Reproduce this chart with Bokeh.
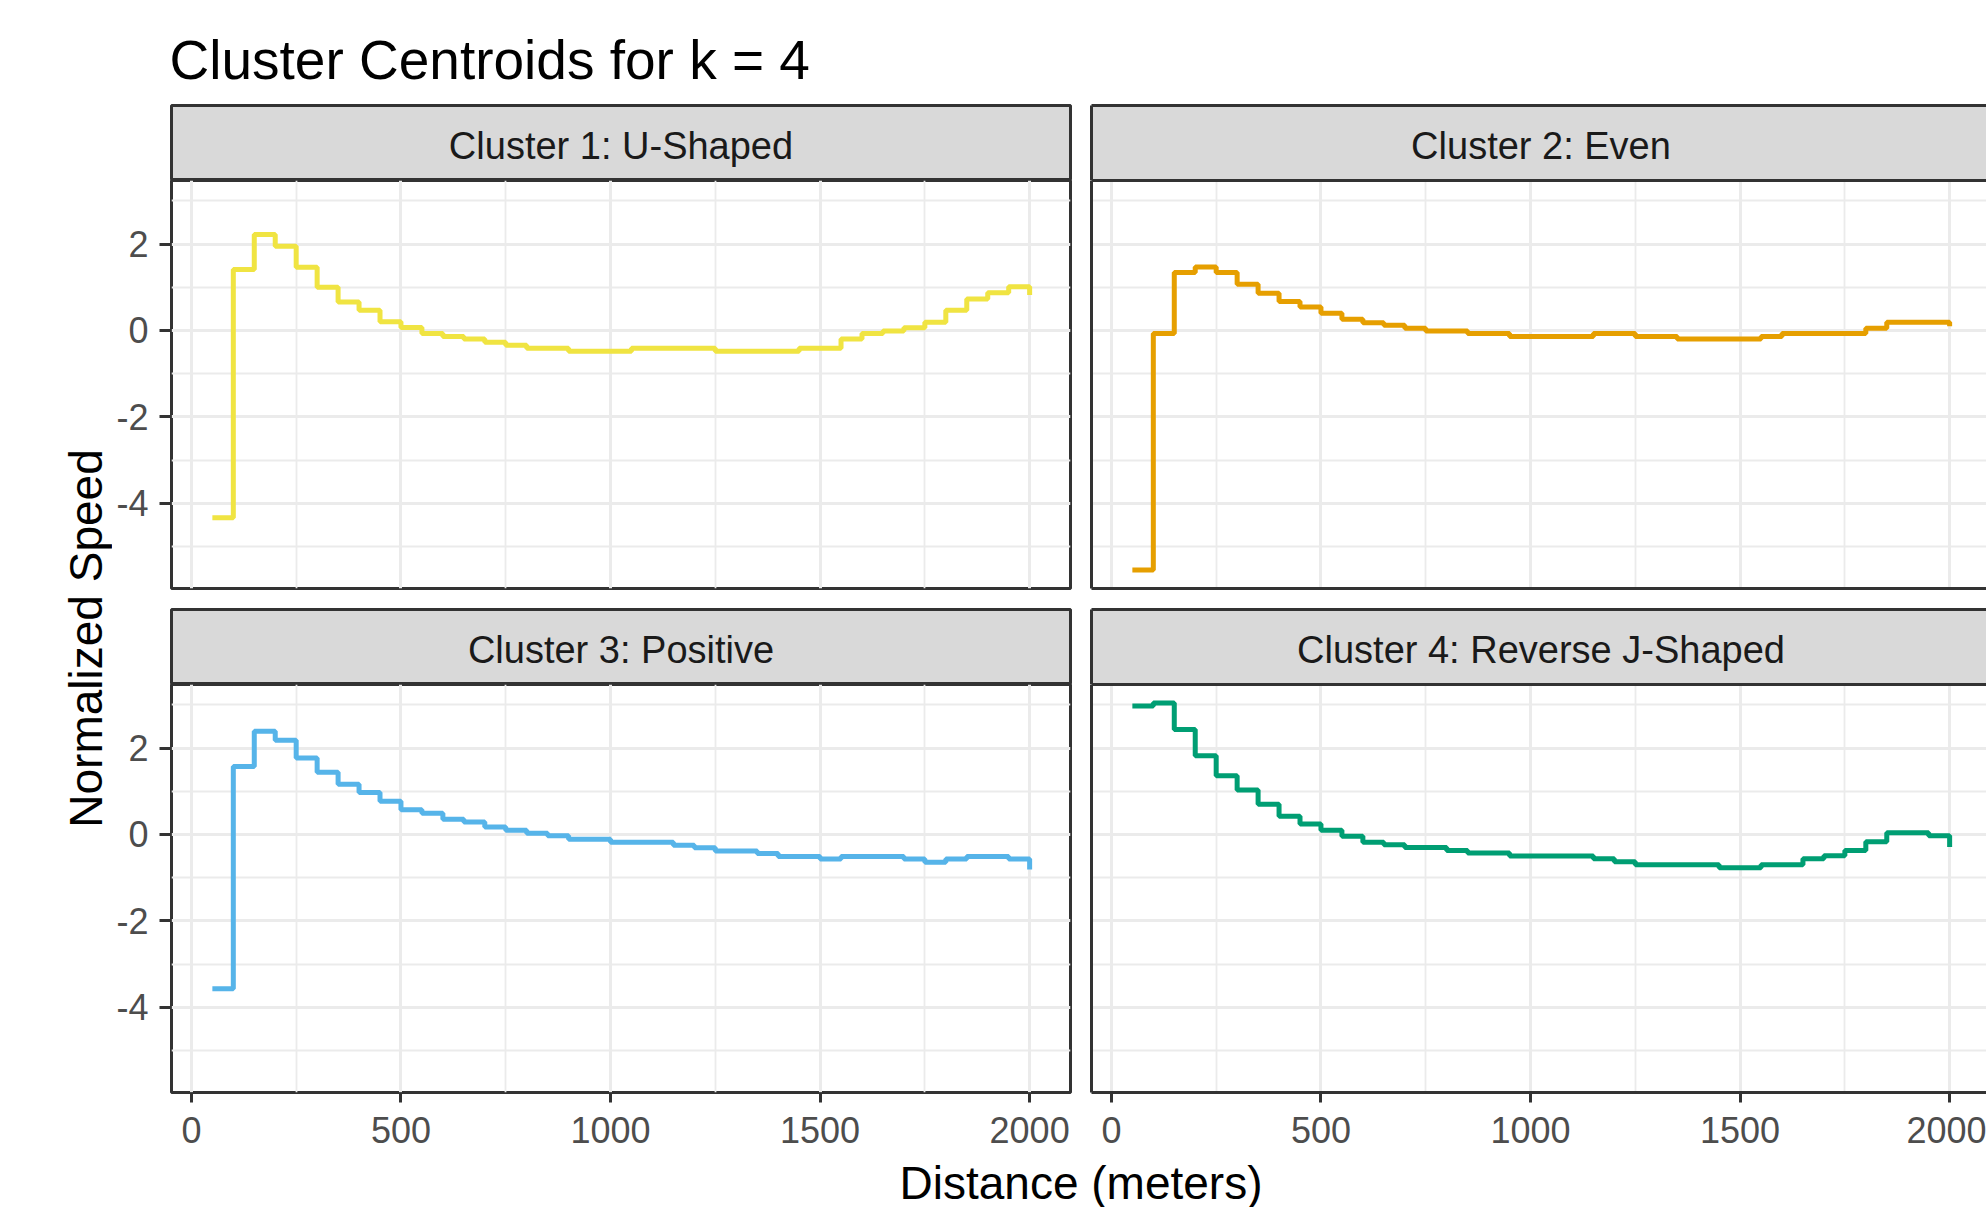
import math
from bokeh.plotting import figure
from bokeh.layouts import column, row
from bokeh.models import Range1d, FixedTicker, Label, LinearAxis
from bokeh.embed import file_html
from bokeh.resources import INLINE

# ---------------- data ----------------
distance = [50, 100, 150, 200, 250, 300, 350, 400, 450, 500,
            550, 600, 650, 700, 750, 800, 850, 900, 950, 1000,
            1050, 1100, 1150, 1200, 1250, 1300, 1350, 1400, 1450, 1500,
            1550, 1600, 1650, 1700, 1750, 1800, 1850, 1900, 1950, 2000]

speed_c1 = [-4.33, 1.41, 2.22, 1.95, 1.46, 1.00, 0.66, 0.47, 0.20, 0.07,
            -0.07, -0.14, -0.20, -0.27, -0.34, -0.41, -0.41, -0.48, -0.48, -0.48,
            -0.41, -0.41, -0.41, -0.41, -0.48, -0.48, -0.48, -0.48, -0.41, -0.41,
            -0.20, -0.07, -0.01, 0.06, 0.19, 0.47, 0.73, 0.87, 1.01, 0.82]

speed_c2 = [-5.54, -0.07, 1.34, 1.47, 1.34, 1.07, 0.86, 0.67, 0.54, 0.40,
            0.26, 0.18, 0.12, 0.05, -0.01, -0.01, -0.07, -0.07, -0.14, -0.14,
            -0.14, -0.14, -0.07, -0.07, -0.14, -0.14, -0.20, -0.20, -0.20, -0.20,
            -0.14, -0.07, -0.07, -0.07, -0.07, 0.05, 0.19, 0.19, 0.19, 0.10]

speed_c3 = [-3.57, 1.57, 2.39, 2.18, 1.77, 1.44, 1.16, 0.97, 0.77, 0.57,
            0.49, 0.35, 0.29, 0.17, 0.10, 0.03, -0.03, -0.11, -0.11, -0.18,
            -0.18, -0.18, -0.25, -0.31, -0.38, -0.38, -0.44, -0.51, -0.51, -0.57,
            -0.51, -0.51, -0.51, -0.57, -0.64, -0.57, -0.51, -0.51, -0.57, -0.81]

speed_c4 = [2.97, 3.04, 2.43, 1.82, 1.36, 1.03, 0.70, 0.42, 0.24, 0.10,
            -0.04, -0.18, -0.24, -0.30, -0.30, -0.37, -0.43, -0.43, -0.50, -0.50,
            -0.50, -0.50, -0.56, -0.63, -0.70, -0.70, -0.70, -0.70, -0.77, -0.77,
            -0.70, -0.70, -0.56, -0.49, -0.37, -0.17, 0.04, 0.04, -0.03, -0.29]

panel_labels = ["Cluster 1: U-Shaped", "Cluster 2: Even",
                "Cluster 3: Positive", "Cluster 4: Reverse J-Shaped"]
panel_colors = ["#F0E442", "#E69F00", "#56B4E9", "#009E73"]
x_ticks = [0, 500, 1000, 1500, 2000]
y_ticks = [-4, -2, 0, 2]
title_text = "Cluster Centroids for k = 4"
x_title = "Distance (meters)"
y_title = "Normalized Speed"

series = [speed_c1, speed_c2, speed_c3, speed_c4]

# ---------------- style ----------------
FONT = "Liberation Sans"
BORDER = "#333333"
GRID = "#EBEBEB"
STRIP_BG = "#D9D9D9"
TICK_TXT = "#4D4D4D"
TICK_SIZE = "36px"

# ---------------- scales (ggplot-like 5% expansion) ----------------
all_y = [v for s in series for v in s]
y_lo, y_hi = min(all_y), max(all_y)
x_lo, x_hi = min(distance), max(distance)
XS = x_lo - 0.05 * (x_hi - x_lo)
XE = x_hi + 0.05 * (x_hi - x_lo)
YS = y_lo - 0.05 * (y_hi - y_lo)
YE = y_hi + 0.05 * (y_hi - y_lo)

x_step = x_ticks[1] - x_ticks[0]
y_step = y_ticks[1] - y_ticks[0]
x_minor = [t + x_step / 2 for t in [x_ticks[0] - x_step] + x_ticks]
x_minor = [t for t in x_minor if XS <= t <= XE]
y_minor = [t + y_step / 2 for t in [y_ticks[0] - y_step] + y_ticks]
y_minor = [t for t in y_minor if YS <= t <= YE]

# ---------------- layout sizes (px) ----------------
TOTAL_W = 1986
TOTAL_H = 1207
YLAB_W = 112
L_BORDER = 59
FRAME_W = 899
GAP_R = 19
LEFT_W = L_BORDER + FRAME_W + GAP_R
RIGHT_W = TOTAL_W - YLAB_W - LEFT_W
R_BORDER = 2
RIGHT_FRAME = RIGHT_W - R_BORDER
TITLE_H = 103
STRIP_TOP = 2
STRIP_FRAME = 75
STRIP_H = STRIP_TOP + STRIP_FRAME
FRAME_H = 408
ROW_GAP = 19
BOTTOM_AX = 62
XLAB_H = TOTAL_H - TITLE_H - 2 * STRIP_H - 2 * FRAME_H - ROW_GAP - BOTTOM_AX

x_range_left = Range1d(XS, XE)
x_range_right = Range1d(XS, XS + (XE - XS) * RIGHT_FRAME / FRAME_W)
y_range = Range1d(YS, YE)


def line_axis(ax):
    ax.ticker = FixedTicker(ticks=[])
    ax.major_tick_out = 0
    ax.major_tick_in = 0
    ax.minor_tick_out = 0
    ax.minor_tick_in = 0
    ax.major_label_standoff = 0
    ax.major_label_text_font_size = "0px"
    ax.axis_line_color = BORDER
    ax.axis_line_width = 3


def blank(width, height):
    f = figure(width=width, height=height, x_range=Range1d(0, width),
               y_range=Range1d(0, height), output_backend="svg", title=None,
               toolbar_location=None, x_axis_location=None, y_axis_location=None,
               min_border=0)
    f.outline_line_color = None
    f.grid.visible = False
    return f


def make_strip(i, col):
    left = col == 0
    s = figure(width=LEFT_W if left else RIGHT_W, height=STRIP_H,
               x_range=x_range_left if left else x_range_right,
               y_range=Range1d(0, STRIP_FRAME), output_backend="svg", title=None,
               toolbar_location=None, x_axis_location=None, y_axis_location=None,
               min_border_left=L_BORDER if left else R_BORDER,
               min_border_right=GAP_R if left else 0,
               min_border_top=STRIP_TOP, min_border_bottom=0,
               background_fill_color=STRIP_BG)
    s.grid.visible = False
    if left:
        s.outline_line_color = BORDER
        s.outline_line_width = 3
    else:
        s.outline_line_color = None
        for side in ["above", "below", "left"]:
            ax = LinearAxis()
            line_axis(ax)
            s.add_layout(ax, side)
    s.add_layout(Label(x=(x_lo + x_hi) / 2, y=35, text=panel_labels[i],
                       text_align="center", text_baseline="middle",
                       text_font=FONT, text_font_size="38px", text_color="#1A1A1A"))
    return s


def make_panel(i, col, bottom):
    left = col == 0
    p = figure(width=LEFT_W if left else RIGHT_W,
               height=FRAME_H + (BOTTOM_AX if bottom else ROW_GAP),
               x_range=x_range_left if left else x_range_right, y_range=y_range,
               output_backend="svg", toolbar_location=None, title=None,
               min_border_left=L_BORDER if left else R_BORDER,
               min_border_right=GAP_R if left else 0,
               min_border_top=0,
               min_border_bottom=BOTTOM_AX if bottom else ROW_GAP,
               background_fill_color="white", border_fill_color="white")
    xa = p.below[0]
    ya = p.left[0]

    # grids
    p.xgrid.ticker = FixedTicker(ticks=x_ticks, minor_ticks=x_minor)
    p.ygrid.ticker = FixedTicker(ticks=y_ticks, minor_ticks=y_minor)
    p.grid.grid_line_color = GRID
    p.grid.grid_line_width = 3
    p.grid.minor_grid_line_color = GRID
    p.grid.minor_grid_line_width = 1.8

    # y axis
    if left:
        ya.ticker = FixedTicker(ticks=y_ticks)
        ya.major_label_overrides = {t: str(t) for t in y_ticks}
        ya.major_tick_out = 12
        ya.major_tick_in = 0
        ya.minor_tick_out = 0
        ya.minor_tick_in = 0
        ya.major_tick_line_color = BORDER
        ya.major_tick_line_width = 3
        ya.major_label_standoff = 11
        ya.major_label_text_font = FONT
        ya.major_label_text_font_size = TICK_SIZE
        ya.major_label_text_color = TICK_TXT
        ya.axis_line_color = None
    else:
        line_axis(ya)

    # x axis
    if bottom:
        xa.ticker = FixedTicker(ticks=x_ticks)
        xa.major_label_overrides = {t: str(t) for t in x_ticks}
        xa.major_tick_out = 10
        xa.major_tick_in = 0
        xa.minor_tick_out = 0
        xa.minor_tick_in = 0
        xa.major_tick_line_color = BORDER
        xa.major_tick_line_width = 3
        xa.major_label_standoff = 14
        xa.major_label_text_font = FONT
        xa.major_label_text_font_size = TICK_SIZE
        xa.major_label_text_color = TICK_TXT
        xa.axis_line_color = None if left else BORDER
        xa.axis_line_width = 3
    else:
        if left:
            xa.visible = False
        else:
            line_axis(xa)

    # border
    if left:
        p.outline_line_color = BORDER
        p.outline_line_width = 3
    else:
        p.outline_line_color = None
        top = LinearAxis()
        line_axis(top)
        p.add_layout(top, "above")

    p.step(x=distance, y=series[i], mode="after", line_color=panel_colors[i],
           line_width=5)
    return p


cells = []
for i in range(4):
    col = i % 2
    bottom = i >= 2
    cells.append(column(make_strip(i, col), make_panel(i, col, bottom)))

grid = column(row(cells[0], cells[1]), row(cells[2], cells[3]))

title_fig = blank(TOTAL_W, TITLE_H)
title_fig.add_layout(Label(x=169, y=TITLE_H - 59, text=title_text, text_align="left",
                           text_baseline="middle", text_font=FONT,
                           text_font_size="55px", text_color="black"))

ylab_h = 2 * STRIP_H + 2 * FRAME_H + ROW_GAP + BOTTOM_AX
ylab_fig = blank(YLAB_W, ylab_h)
ylab_fig.add_layout(Label(x=85.5, y=ylab_h - (638 - TITLE_H), text=y_title,
                          angle=math.pi / 2, text_align="center",
                          text_baseline="middle", text_font=FONT,
                          text_font_size="46px", text_color="black"))

xlab_fig = blank(TOTAL_W, XLAB_H)
xlab_fig.add_layout(Label(x=1080.5, y=25, text=x_title, text_align="center",
                          text_baseline="middle", text_font=FONT,
                          text_font_size="46px", text_color="black"))

p = column(title_fig, row(ylab_fig, grid), xlab_fig)

open("out.html", "w").write(file_html(p, INLINE))
